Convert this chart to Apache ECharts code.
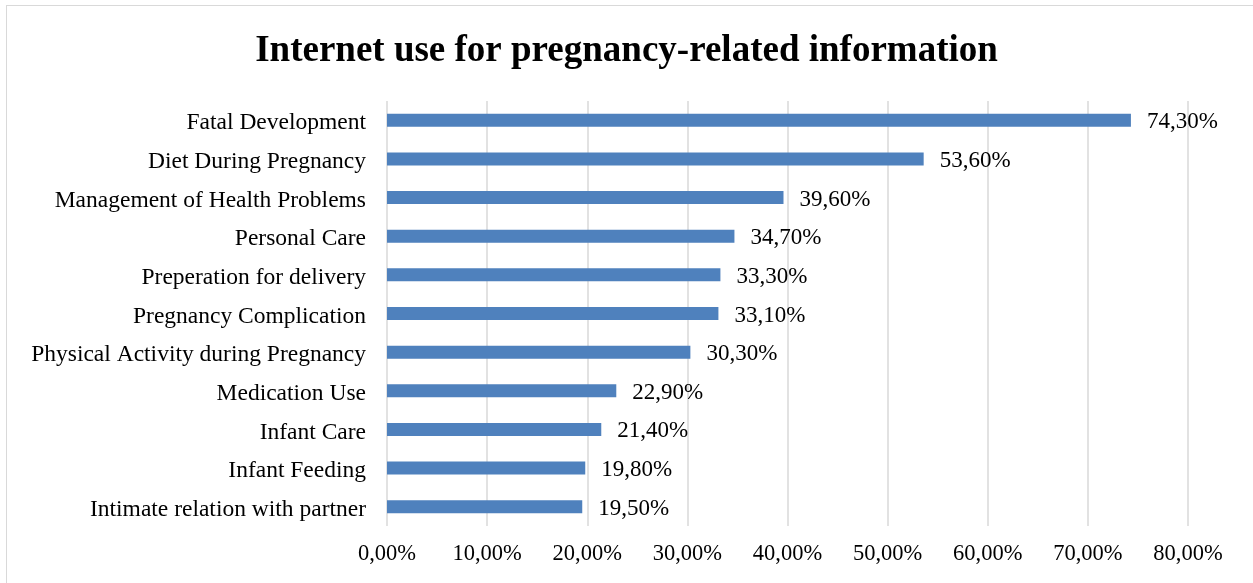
<!DOCTYPE html>
<html><head><meta charset="utf-8">
<script src="https://cdn.jsdelivr.net/npm/echarts@6/dist/echarts.min.js"></script>
<style>
html,body{margin:0;padding:0;background:#fff;}
#frame{position:absolute;left:6px;top:5px;width:1250px;height:590px;border:1px solid #d9d9d9;box-sizing:border-box;}
#c{position:absolute;left:0;top:0;width:1253px;height:583px;}
</style></head>
<body>
<div id="frame"></div>
<div id="c"></div>
<script>
const categories = ["Fatal Development","Diet During Pregnancy","Management of Health Problems","Personal Care","Preperation for delivery","Pregnancy Complication","Physical Activity during Pregnancy","Medication Use","Infant Care","Infant Feeding","Intimate relation with partner"];
const values = [74.3,53.6,39.6,34.7,33.3,33.1,30.3,22.9,21.4,19.8,19.5];
const titleText = "Internet use for pregnancy-related information";
const fmt = v => Number(v).toFixed(2).replace('.', ',') + '%';
const chart = echarts.init(document.getElementById('c'));
const font = "'Liberation Serif','Times New Roman',serif";
chart.setOption({
  animation:false,
  title:{text:titleText,left:'center',top:28,textStyle:{fontFamily:font,fontSize:37,fontWeight:'bold',color:'#000'}},
  grid:{left:387,right:65,top:101,bottom:57,containLabel:false},
  xAxis:{type:'value',min:0,max:80,interval:10,
    axisLine:{show:false},axisTick:{show:false},
    splitLine:{show:true,lineStyle:{color:'#d9d9d9',width:1.5}},
    axisLabel:{formatter:fmt,fontFamily:font,fontSize:22.5,color:'#000',margin:17}},
  yAxis:{type:'category',data:categories,inverse:true,
    axisLine:{show:false},axisTick:{show:false},
    axisLabel:{fontFamily:font,fontSize:23.5,color:'#000',margin:21,
      formatter:v=>'{a|'+v+'}',rich:{a:{fontFamily:font,fontSize:23.5,color:'#000',padding:[6,0,0,0]}}}},
  series:[{type:'bar',data:values,barWidth:13,itemStyle:{color:'#4f81bd'},
    label:{show:true,position:'right',distance:16,offset:[0,2],formatter:p=>fmt(p.value),fontFamily:font,fontSize:23,color:'#000'}}]
});
</script>
</body></html>
